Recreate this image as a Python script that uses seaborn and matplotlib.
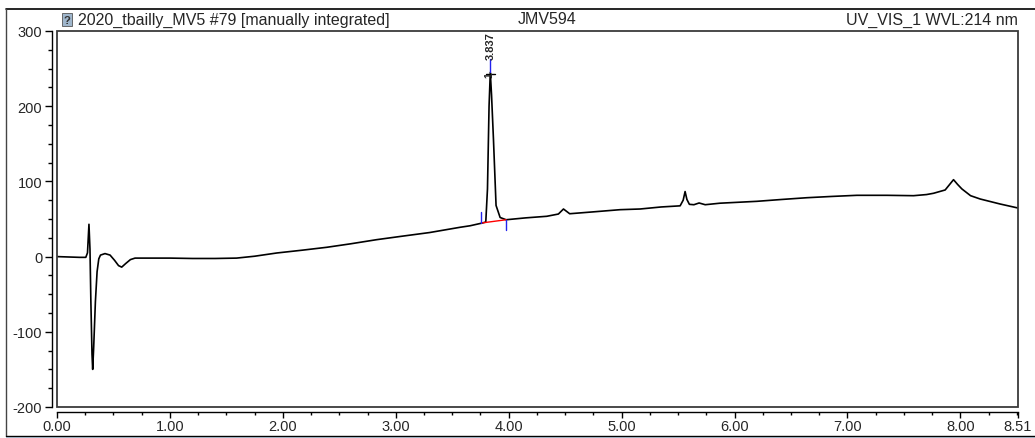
import numpy as np
import pandas as pd
import matplotlib
matplotlib.use('Agg')
import matplotlib.pyplot as plt
import matplotlib.lines as mlines
import matplotlib.patches as mpatches
from matplotlib.ticker import MultipleLocator, FixedLocator
import seaborn as sns

# chromatogram trace (retention time in min, signal in mAU)
time_min = [0.00, 0.10, 0.20, 0.255, 0.270, 0.283, 0.292, 0.300, 0.310, 0.316,
            0.325, 0.340, 0.355, 0.370, 0.385, 0.425, 0.470, 0.510, 0.545, 0.573,
            0.610, 0.650, 0.691, 0.80, 1.00, 1.20, 1.40, 1.59, 1.75, 1.946,
            2.17, 2.39, 2.60, 2.83, 3.05, 3.30, 3.57, 3.658, 3.767, 3.797,
            3.812, 3.826, 3.837, 3.848, 3.865, 3.888, 3.924, 3.977, 4.15, 4.337,
            4.44, 4.485, 4.54, 4.75, 4.987, 5.164, 5.35, 5.518, 5.545, 5.562,
            5.578, 5.60, 5.64, 5.686, 5.74, 5.87, 6.197, 6.42, 6.64, 6.86,
            7.083, 7.35, 7.585, 7.70, 7.762, 7.865, 7.905, 7.939, 7.975, 8.013,
            8.09, 8.175, 8.35, 8.51]
signal_mau = [0, -0.5, -1, -1, 5, 43, 10, -60, -130, -150,
              -120, -60, -20, -3, 2, 4, 2, -5, -12, -14,
              -9, -4, -2, -2, -2, -2.5, -2.5, -2, 0.5, 4.8,
              8.5, 12.4, 17, 22.5, 27, 32, 39, 41, 44.7, 46,
              90, 200, 245, 215, 156, 68, 52, 49, 51.5, 53.6,
              56.6, 63.3, 57, 59.5, 62.4, 63.3, 66, 67.5, 75, 86.5,
              76, 69.5, 69, 71.3, 69, 71, 73.5, 76, 78.3, 80,
              81.5, 81.5, 81, 82.5, 84.2, 88.6, 96, 102.3, 96, 90,
              81, 76.6, 70, 64.6]

# integrated peak
peak_no = 1
peak_rt = 3.837
peak_height = 245
base_start = [3.759, 44.7]
base_end = [3.977, 49.0]

title_left = "2020_tbailly_MV5 #79 [manually integrated]"
title_mid = "JMV594"
title_right = "UV_VIS_1 WVL:214 nm"
x_ticks = [0, 1, 2, 3, 4, 5, 6, 7, 8, 8.51]
x_labels = ["0.00", "1.00", "2.00", "3.00", "4.00", "5.00", "6.00", "7.00", "8.00", "8.51"]
y_ticks = [-200, -100, 0, 100, 200, 300]

df = pd.DataFrame({'time': time_min, 'signal': signal_mau})

sns.set_style('ticks')
plt.rcParams['font.family'] = ['Liberation Sans', 'DejaVu Sans']

W, H = 1035, 439
fig = plt.figure(figsize=(W / 100, H / 100), dpi=100)
ax = fig.add_axes([57 / W, 1 - 408 / H, (1018 - 57) / W, (408 - 32) / H])

sns.lineplot(data=df, x='time', y='signal', color='black', linewidth=1.2, ax=ax,
             estimator=None, sort=False)

ax.set_xlim(0, 8.51)
ax.set_ylim(-200, 300)
ax.set_xlabel('')
ax.set_ylabel('')

# frame around plotting area
ax.add_patch(mpatches.Rectangle((0, 0), 1, 1, transform=ax.transAxes, fill=False,
                                edgecolor='#3a3a3a', linewidth=1.3, clip_on=False, zorder=5))

for s in ['top', 'right']:
    ax.spines[s].set_visible(False)
ax.spines['left'].set_position(('outward', 3.6))
ax.spines['bottom'].set_position(('outward', 3.6))
for s in ['left', 'bottom']:
    ax.spines[s].set_color('black')
    ax.spines[s].set_linewidth(1.0)

ax.yaxis.set_major_locator(FixedLocator(y_ticks))
ax.yaxis.set_minor_locator(MultipleLocator(25))
ax.xaxis.set_major_locator(FixedLocator(x_ticks))
ax.xaxis.set_minor_locator(MultipleLocator(0.25))
ax.set_xticklabels(x_labels)
ax.set_yticklabels([str(v) for v in y_ticks])
ax.tick_params(axis='y', which='major', length=5, width=1.0, color='black',
               labelsize=10.5, pad=2)
ax.tick_params(axis='y', which='minor', length=3, width=1.0, color='black')
ax.tick_params(axis='x', which='major', length=4, width=1.0, color='black',
               labelsize=10.5, pad=1)
ax.tick_params(axis='x', which='minor', length=2.5, width=1.0, color='black')

# integration marks
ax.plot([base_start[0], base_end[0]], [base_start[1], base_end[1]], color='red', linewidth=1.0)
ax.plot([base_start[0], base_start[0]], [base_start[1], base_start[1] + 14], color='#2222ee', linewidth=1.0)
ax.plot([base_end[0], base_end[0]], [base_end[1], base_end[1] - 14], color='#2222ee', linewidth=1.0)
ax.plot([peak_rt, peak_rt], [peak_height, peak_height + 18], color='#2222ee', linewidth=1.0)
ax.plot([peak_rt - 0.04, peak_rt + 0.04], [peak_height - 2, peak_height - 2], color='black', linewidth=1.0)
ax.text(peak_rt - 0.01, peak_height - 2, str(peak_no), rotation=90, ha='center', va='center',
        fontsize=7.5, fontweight='bold')
ax.text(peak_rt, peak_height + 18, f"{peak_rt:.3f}", rotation=90, ha='center', va='bottom',
        fontsize=8, fontweight='bold')

# header
fig.text(78 / W, 1 - 20 / H, title_left, fontsize=11.5, va='center', ha='left')
fig.text(547 / W, 1 - 20 / H, title_mid, fontsize=11.5, va='center', ha='center')
fig.text(1018 / W, 1 - 20 / H, title_right, fontsize=11.5, va='center', ha='right')
fig.patches.append(mpatches.Rectangle((62 / W, 1 - 27 / H), 10 / W, 13 / H, transform=fig.transFigure,
                                      facecolor='#9fb6cc', edgecolor='#555555', linewidth=0.6))
fig.text(67 / W, 1 - 21.5 / H, '?', fontsize=8, fontweight='bold', ha='center', va='center', color='#333333')

# outer window lines
fig.lines.append(mlines.Line2D([6 / W, 1], [1 - 9.5 / H, 1 - 9.5 / H], transform=fig.transFigure,
                               color='black', linewidth=1.2))
fig.lines.append(mlines.Line2D([6 / W, 6 / W], [1 - 9.5 / H, 1 - 437 / H], transform=fig.transFigure,
                               color='#444444', linewidth=1.0))
fig.lines.append(mlines.Line2D([6 / W, 1], [1 - 437 / H, 1 - 437 / H], transform=fig.transFigure,
                               color='black', linewidth=1.0))
fig.patches.append(mpatches.Rectangle((6 / W, 0), 1, 1.5 / H, transform=fig.transFigure,
                                      facecolor='#c8dcf0', edgecolor='none'))

fig.savefig('out.png', dpi=100)
